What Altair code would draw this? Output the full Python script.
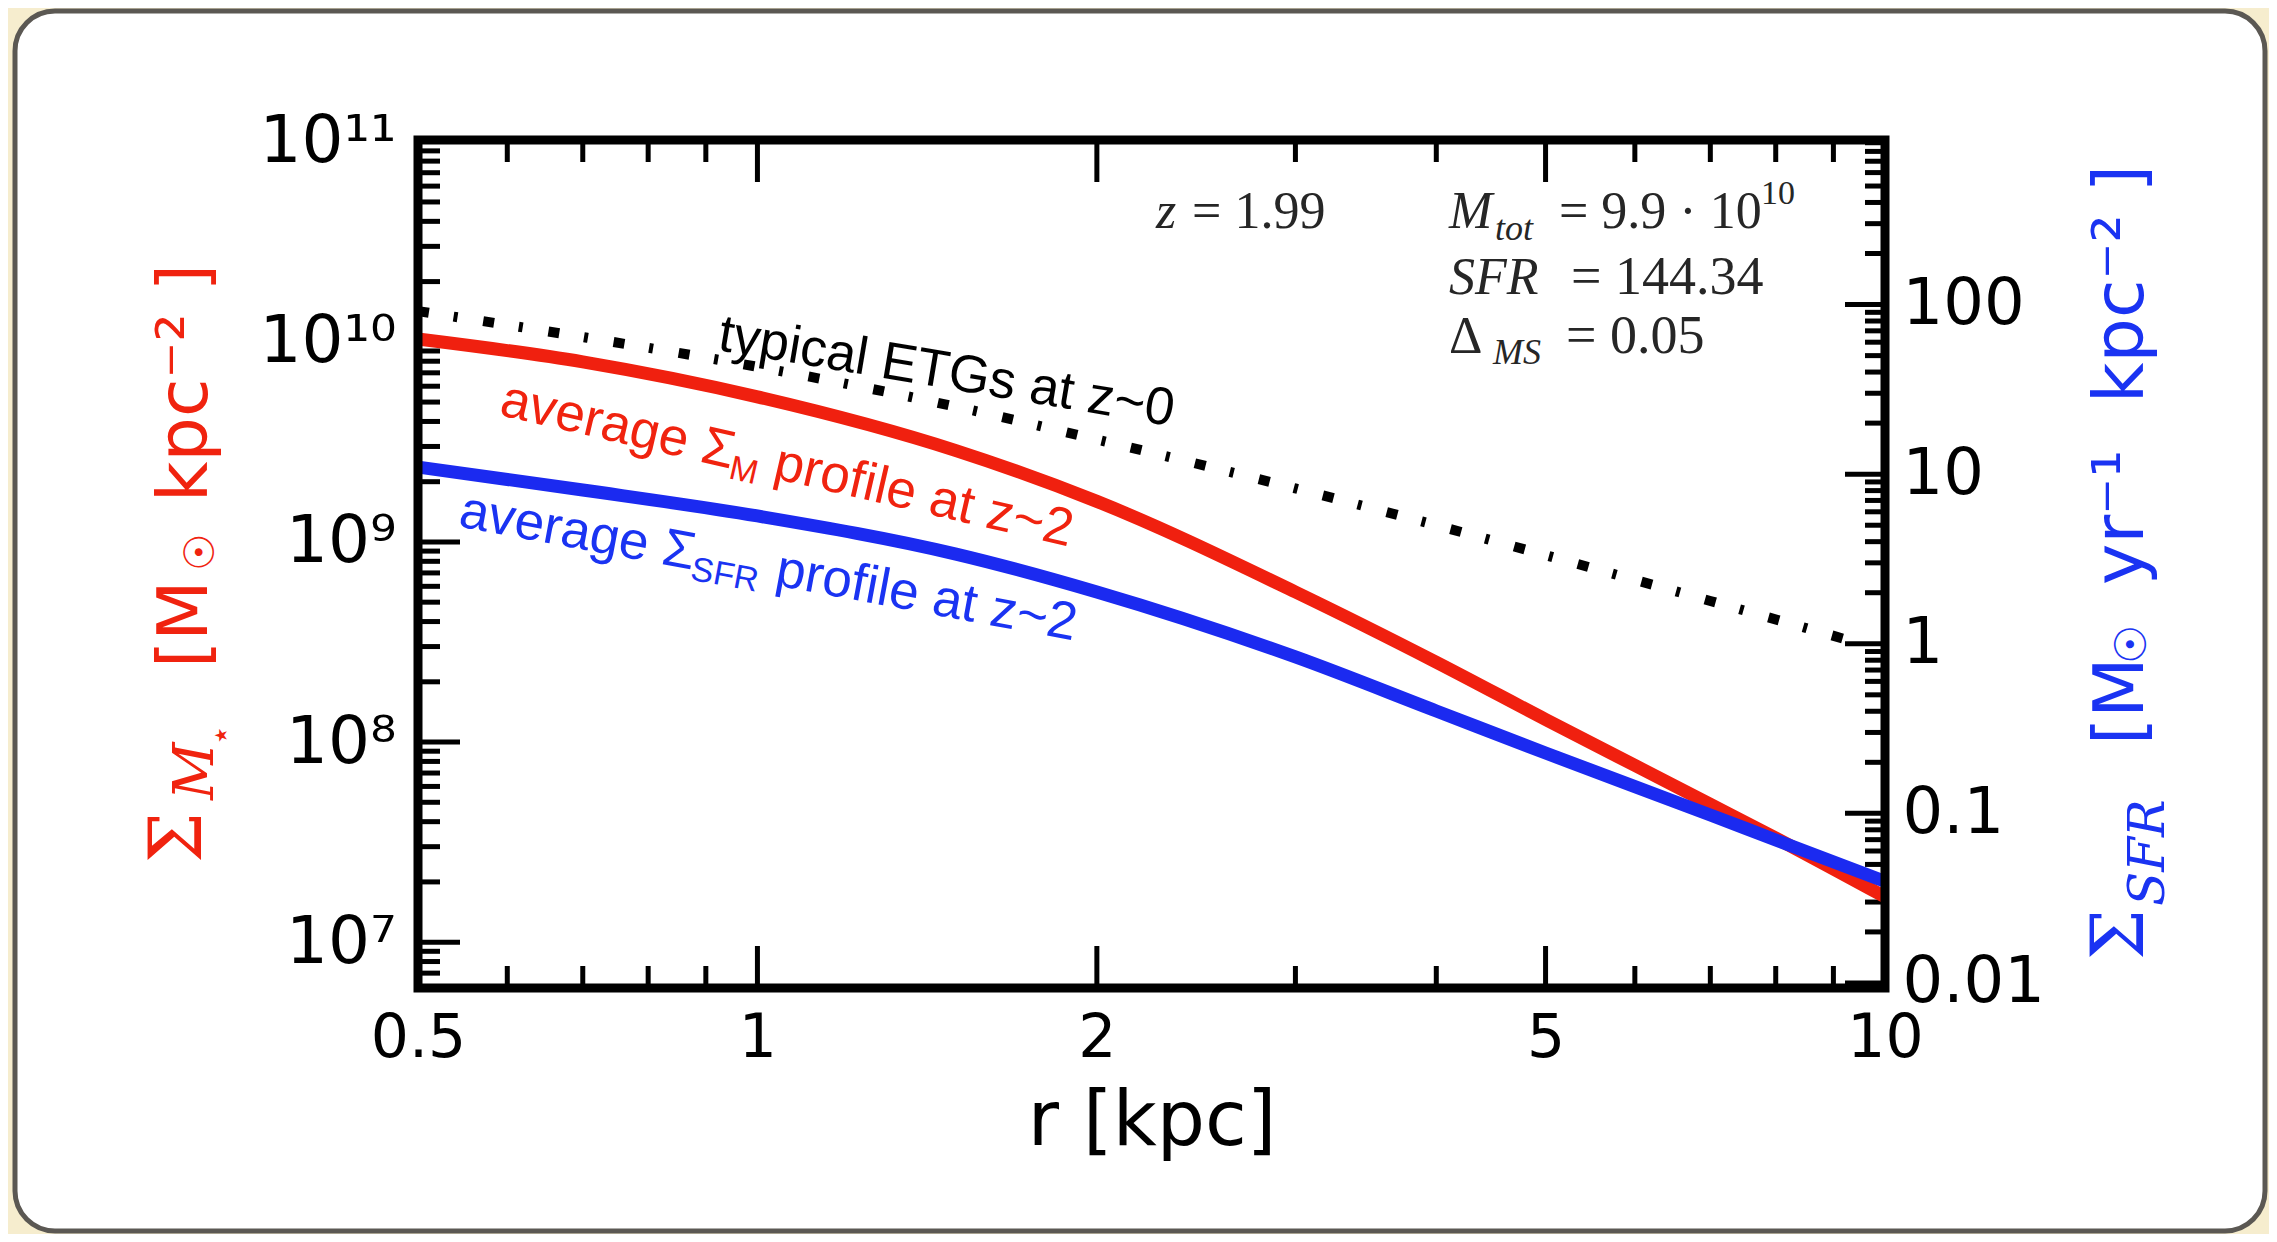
import altair as alt
import pandas as pd

# ---------------- data ----------------
r_profile = [0.5, 0.7, 1.0, 1.5, 2.0, 3.0, 4.0, 5.0, 7.0, 8.0, 10.0]
sigma_mass_z2 = [1.033e10, 7.94e9, 5.31e9, 2.86e9, 1.595e9, 5.62e8, 2.505e8, 1.296e8, 4.89e7, 3.31e7, 1.684e7]
sigma_sfr_z2 = [11.02, 8.07, 5.67, 3.38, 2.02, 0.836, 0.4015, 0.227, 0.0978, 0.0697, 0.0397]

r_etg = [0.5, 0.7, 1.0, 1.5, 2.0, 3.0, 4.0, 5.0, 7.0, 9.6]
sigma_mass_etg = [1.424e10, 1.057e10, 7.50e9, 4.74e9, 3.25e9, 1.851e9, 1.211e9, 8.59e8, 5.07e8, 3.06e8]

x_tick_labels = [0.5, 1, 2, 5, 10]
x_major_ticks = [1, 2, 5]
x_minor_ticks = [0.6, 0.7, 0.8, 0.9, 3, 4, 6, 7, 8, 9]
mass_tick_labels = [1e7, 1e8, 1e9, 1e10, 1e11]
mass_major_ticks = [1e7, 1e8, 1e9, 1e10]
mass_minor_ticks = [k * 10.0 ** n for n in range(6, 11) for k in range(2, 10)
                    if 6.05e6 < k * 10.0 ** n < 1e11]
sfr_tick_labels = [0.01, 0.1, 1, 10, 100]
sfr_major_ticks = [0.01, 0.1, 1, 10, 100]
sfr_minor_ticks = [k * 10.0 ** n for n in range(-2, 3) for k in range(2, 10)]

# ---------------- styling ----------------
W, H = 1467, 848
BEIGE = "#f6edce"
RED = "#f0200f"
BLUE = "#1b2af0"
TXT_RED = "#f0230f"
TXT_BLUE = "#1a33f2"
GREY = "#262626"

XS = alt.Scale(type="log", domain=[0.5, 10], nice=False)
MS = alt.Scale(type="log", domain=[5.9e6, 1.02e11], nice=False)
SS = alt.Scale(type="log", domain=[0.00934, 934], nice=False)

x_axis = alt.Axis(values=x_tick_labels, format="~g", labelFont="DejaVu Sans", labelFontSize=60,
                  labelColor="black", labelPadding=68, labelBaseline="alphabetic",
                  ticks=False, tickSize=0, domain=False, grid=False, labelOverlap=False,
                  labelFlush=False, title="r [kpc]", titleFont="DejaVu Sans", titleFontSize=76,
                  titleFontWeight="normal", titleColor="black", titleBaseline="alphabetic",
                  titleY=156, zindex=1)
X = alt.X("r:Q", scale=XS, axis=x_axis)

left_axis = alt.Axis(orient="left", values=mass_tick_labels,
                     labelExpr="['','','','','','','','10⁷','10⁸','10⁹','10¹⁰','10¹¹'][round(log(datum.value)/LN10)]",
                     labelFont="DejaVu Sans", labelFontSize=66, labelColor="black", labelPadding=22,
                     ticks=False, tickSize=0, domain=False, grid=False, title=None,
                     labelOverlap=False, labelFlush=False, zindex=1)
right_axis = alt.Axis(orient="right", values=sfr_tick_labels,
                      labelExpr="['0.01','0.1','1','10','100'][round(log(datum.value)/LN10)+2]",
                      labelFont="DejaVu Sans", labelFontSize=64, labelColor="black", labelPadding=17,
                      ticks=False, tickSize=0, domain=False, grid=False, title=None,
                      labelOverlap=False, labelFlush=False, zindex=1)

YM = lambda axis=None: alt.Y("m:Q", scale=MS, axis=axis)
YS = lambda axis=None: alt.Y("s:Q", scale=SS, axis=axis)

dummy = pd.DataFrame({"a": [0]})

# ---------------- decoration ----------------
bg = alt.Chart(dummy).mark_rect(fill=BEIGE).encode(
    x=alt.value(-410), x2=alt.value(1851), y=alt.value(-132), y2=alt.value(1094))
box = alt.Chart(dummy).mark_rect(fill="white", stroke="#5b5853", strokeWidth=5, cornerRadius=40).encode(
    x=alt.value(-403), x2=alt.value(1847), y=alt.value(-129), y2=alt.value(1091))

layers = [bg, box]

# ---------------- ticks (inward) ----------------
def yticks(vals, field, scale, x0, x1):
    df = pd.DataFrame({field: vals})
    return alt.Chart(df).mark_rule(color="black", strokeWidth=5).encode(
        y=alt.Y(f"{field}:Q", scale=scale, axis=None), x=alt.value(x0), x2=alt.value(x1))

def xticks(vals, y0, y1):
    df = pd.DataFrame({"r": vals})
    return alt.Chart(df).mark_rule(color="black", strokeWidth=5).encode(
        x=X, y=alt.value(y0), y2=alt.value(y1))

layers += [
    yticks(mass_major_ticks, "m", MS, 0, 42),
    yticks(mass_minor_ticks, "m", MS, 0, 22),
    yticks(sfr_major_ticks, "s", SS, W, W - 40),
    yticks(sfr_minor_ticks, "s", SS, W, W - 20),
    xticks(x_major_ticks, H, H - 42),
    xticks(x_minor_ticks, H, H - 22),
    xticks(x_major_ticks, 0, 42),
    xticks(x_minor_ticks, 0, 22),
]

# ---------------- curves ----------------
df_etg = pd.DataFrame({"r": r_etg, "m": sigma_mass_etg})
df_mass = pd.DataFrame({"r": r_profile, "m": sigma_mass_z2})
df_sfr = pd.DataFrame({"r": r_profile, "s": sigma_sfr_z2})

etg = alt.Chart(df_etg).mark_line(color="black", strokeWidth=10, strokeDash=[11, 25, 4, 26],
                                  strokeCap="butt", interpolate="monotone").encode(x=X, y=YM())
mass = alt.Chart(df_mass).mark_line(color=RED, strokeWidth=13, interpolate="monotone").encode(
    x=X, y=YM(left_axis))
sfr = alt.Chart(df_sfr).mark_line(color=BLUE, strokeWidth=13, interpolate="monotone").encode(
    x=X, y=YS(right_axis))
layers += [etg, mass, sfr]

# ---------------- annotations in data space ----------------
def anno(r, m, text, dx=0, dy=0, **kw):
    df = pd.DataFrame({"r": [r], "m": [m]})
    return alt.Chart(df).mark_text(text=text, align="left", baseline="alphabetic", dx=dx, dy=dy, **kw).encode(
        x=X, y=YM())

SANS = dict(font="Liberation Sans")
layers += [
    anno(0.9189, 8.70e9, "typical ETGs at z~0", dy=-4, angle=9.5, fontSize=53, color="black", **SANS),
    anno(0.5886, 4.32e9, "average Σ", angle=13, fontSize=53, color=TXT_RED, **SANS),
    anno(0.5886, 4.32e9, "M", dx=238, dy=10, angle=13, fontSize=34, color=TXT_RED, **SANS),
    anno(0.5886, 4.32e9, "profile at z~2", dx=281, angle=13, fontSize=53, color=TXT_RED, **SANS),
    anno(0.5416, 1.198e9, "average Σ", angle=10.5, fontSize=53, color=TXT_BLUE, **SANS),
    anno(0.5416, 1.198e9, "SFR", dx=238, dy=10, angle=10.5, fontSize=34, color=TXT_BLUE, **SANS),
    anno(0.5416, 1.198e9, "profile at z~2", dx=322, angle=10.5, fontSize=53, color=TXT_BLUE, **SANS),
]

SERIF = dict(font="Liberation Serif", color=GREY)
layers += [
    anno(2.257, 3.69e10, "z", fontSize=52, fontStyle="italic", **SERIF),
    anno(2.257, 3.69e10, "= 1.99", dx=36, fontSize=52, **SERIF),
    anno(4.105, 3.69e10, "M", fontSize=52, fontStyle="italic", **SERIF),
    anno(4.105, 3.69e10, "tot", dx=46, dy=12, fontSize=36, fontStyle="italic", **SERIF),
    anno(4.105, 3.69e10, "= 9.9 · 10", dx=110, fontSize=52, **SERIF),
    anno(4.105, 3.69e10, "10", dx=312, dy=-24, fontSize=34, **SERIF),
    anno(4.105, 1.731e10, "SFR", fontSize=52, fontStyle="italic", **SERIF),
    anno(4.105, 1.731e10, "= 144.34", dx=122, fontSize=54, **SERIF),
    anno(4.105, 8.80e9, "Δ", fontSize=52, **SERIF),
    anno(4.105, 8.80e9, "MS", dx=44, dy=11, fontSize=36, fontStyle="italic", **SERIF),
    anno(4.105, 8.80e9, "= 0.05", dx=117, fontSize=54, **SERIF),
]

# ---------------- rotated axis titles ----------------
def vtext(x, y, text, **kw):
    return alt.Chart(dummy).mark_text(text=text, align="left", baseline="alphabetic", angle=270, **kw).encode(
        x=alt.value(x), y=alt.value(y))

layers += [
    vtext(-217, 723, "Σ", font="DejaVu Serif", fontSize=72, color=TXT_RED),
    vtext(-205, 660, "M", font="DejaVu Serif", fontStyle="italic", fontSize=56, color=TXT_RED),
    vtext(-186, 606, "⋆", font="DejaVu Sans", fontSize=34, color=TXT_RED),
    vtext(-211, 528, "[M", font="DejaVu Sans", fontSize=70, color=TXT_RED),
    vtext(-204, 431, "☉", font="DejaVu Sans", fontSize=42, color=TXT_RED),
    vtext(-211, 362, "kpc⁻² ]", font="DejaVu Sans", fontSize=70, color=TXT_RED),
    vtext(1725, 820, "Σ", font="DejaVu Serif", fontSize=72, color=TXT_BLUE),
    vtext(1746, 766, "SFR", font="DejaVu Serif", fontStyle="italic", fontSize=50, color=TXT_BLUE),
    vtext(1725, 605, "[M", font="DejaVu Sans", fontSize=70, color=TXT_BLUE),
    vtext(1728, 524, "☉", font="DejaVu Sans", fontSize=44, color=TXT_BLUE),
    vtext(1725, 445, "yr⁻¹", font="DejaVu Sans", fontSize=70, color=TXT_BLUE),
    vtext(1725, 263, "kpc⁻² ]", font="DejaVu Sans", fontSize=70, color=TXT_BLUE),
]

# ---------------- frame ----------------
frame = alt.Chart(dummy).mark_rect(fillOpacity=0, stroke="black", strokeWidth=9).encode(
    x=alt.value(0), x2=alt.value(W), y=alt.value(0), y2=alt.value(H))
layers.append(frame)

chart = alt.layer(*layers).resolve_scale(y="independent").properties(
    width=W, height=H, background=BEIGE, padding=0
).configure_view(strokeWidth=0)

chart.save("out.html", embed_options={"renderer": "svg", "actions": False})
